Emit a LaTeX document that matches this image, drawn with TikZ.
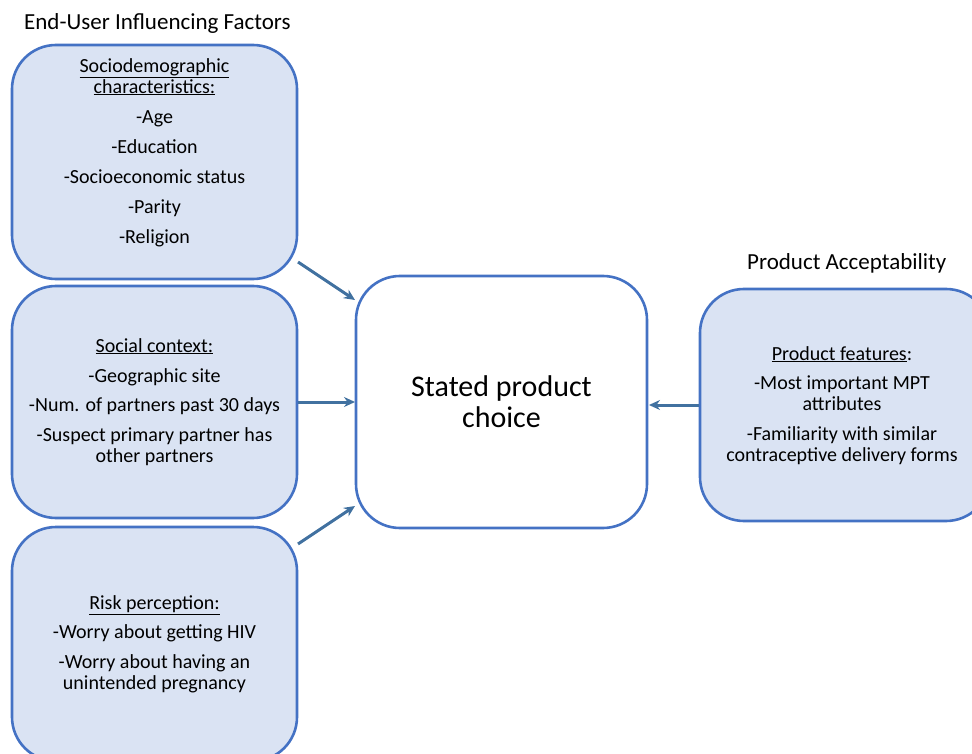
\documentclass[tikz,border=0pt]{standalone}
\usepackage{fontspec}
\setmainfont{Carlito}
\usetikzlibrary{arrows.meta}
\definecolor{boxline}{RGB}{68,114,196}
\definecolor{boxfill}{RGB}{218,227,243}
\definecolor{arrowc}{RGB}{65,113,160}
\tikzset{
  x=1pt, y=-1pt,
  box/.style={draw=boxline, fill=boxfill, line width=2.6pt, rounded corners=44pt, inner sep=0pt},
  cbox/.style={draw=boxline, fill=white, line width=2.6pt, rounded corners=44pt, inner sep=0pt},
  txt/.style={align=center, font=\fontsize{20}{21}\selectfont, inner sep=0pt, text=black},
  ttl/.style={font=\fontsize{23}{26}\selectfont, inner sep=0pt, text=black},
  arr/.style={draw=arrowc, line width=3pt, -{Stealth[length=11pt,width=10pt]}},
}
\begin{document}
\begin{tikzpicture}
\useasboundingbox (0,0) rectangle (972,754);
\clip (0,0) rectangle (972,754);
% titles
\node[ttl, anchor=west] (t1) at (24,23) {End-User Influencing Factors};
\node[ttl, anchor=west] (t2) at (747,263) {Product Acceptability};
% boxes
\node[box, minimum width=285pt, minimum height=234pt] (b1) at (154.5,162) {};
\node[box, minimum width=285pt, minimum height=232pt] (b2) at (154.5,402) {};
\node[box, minimum width=285pt, minimum height=234pt] (b3) at (154.5,644) {};
\node[cbox, minimum width=291pt, minimum height=252pt] (c) at (501.5,402) {};
\node[box, minimum width=290pt, minimum height=232pt] (r) at (845,405) {};
% texts
\node[txt, anchor=north] (x1) at (154.5,58) {\underline{Sociodemographic}\\ \underline{characteristics:}\\[9pt]-Age\\[9pt]-Education\\[9pt]-Socioeconomic status\\[9pt]-Parity\\[9pt]-Religion};
\node[txt, anchor=north] (x2) at (154.5,338) {\underline{Social context:}\\[9pt]-Geographic site\\[8pt]-Num. of partners past 30 days\\[9pt]-Suspect primary partner has\\other partners};
\node[txt, anchor=north] (x3) at (154.5,595) {\underline{Risk perception:}\\[8pt]-Worry about getting HIV\\[9pt]-Worry about having an\\unintended pregnancy};
\node[txt, anchor=north] (x4) at (842,346) {\underline{Product features}:\\[8pt]-Most important MPT\\attributes\\[9pt]-Familiarity with similar\\contraceptive delivery forms};
\node[align=center, font=\fontsize{30}{31}\selectfont, inner sep=0pt] (ct) at (501.5,402) {Stated product\\choice};
% arrow anchors
\coordinate (a1s) at (298,262);
\coordinate (a1e) at (355,300);
\coordinate (a2s) at (298,402);
\coordinate (a2e) at (355,402);
\coordinate (a3s) at (298,544);
\coordinate (a3e) at (355,506);
\coordinate (a4s) at (699,405);
\coordinate (a4e) at (649,405);
\draw[arr] (a1s) -- (a1e);
\draw[arr] (a2s) -- (a2e);
\draw[arr] (a3s) -- (a3e);
\draw[arr] (a4s) -- (a4e);
\end{tikzpicture}
\end{document}
